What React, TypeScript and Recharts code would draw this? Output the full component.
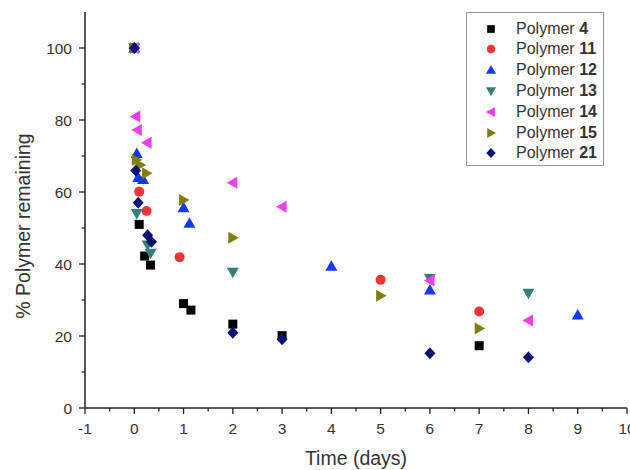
import { Label, Scatter, ScatterChart, XAxis, YAxis } from "recharts";

// [time (days), % remaining]
const polymer4 = [[0, 100], [0.1, 51], [0.21, 42.2], [0.33, 39.7], [1, 29], [1.15, 27.2], [2, 23.3], [3, 20.1], [7, 17.3]];
const polymer11 = [[0, 100], [0.1, 60.1], [0.25, 54.7], [0.92, 41.9], [5, 35.6], [7, 26.8]];
const polymer12 = [[0, 100], [0.05, 70.7], [0.08, 64], [0.18, 63.5], [1, 55.6], [1.12, 51.3], [4, 39.4], [6, 32.8], [9, 25.8]];
const polymer13 = [[0, 100], [0.05, 54], [0.27, 45.3], [0.33, 43], [2, 37.7], [6, 36], [8, 31.9]];
const polymer14 = [[0, 100], [0.03, 81], [0.06, 77.2], [0.26, 73.7], [2, 62.6], [3, 55.9], [6, 35.4], [8, 24.3]];
const polymer15 = [[0, 100], [0.04, 68.9], [0.12, 67.5], [0.25, 65.2], [1, 57.8], [2, 47.3], [5, 31.2], [7, 22.1]];
const polymer21 = [[0, 100], [0.03, 66], [0.08, 57], [0.27, 48], [0.35, 46.2], [2, 20.9], [3, 19.1], [6, 15.2], [8, 14.1]];

const xMajor = [-1, 0, 1, 2, 3, 4, 5, 6, 7, 8, 9, 10];
const xMinor = [-0.5, 0.5, 1.5, 2.5, 3.5, 4.5, 5.5, 6.5, 7.5, 8.5, 9.5];
const yMajor = [0, 20, 40, 60, 80, 100];
const yMinor = [10, 30, 50, 70, 90];

type Kind = "square" | "circle" | "up" | "down" | "left" | "right" | "diamond";

const series: { name: string; num: string; kind: Kind; color: string; points: number[][] }[] = [
  { name: "Polymer", num: "4", kind: "square", color: "#000000", points: polymer4 },
  { name: "Polymer", num: "11", kind: "circle", color: "#f23434", points: polymer11 },
  { name: "Polymer", num: "12", kind: "up", color: "#1538f5", points: polymer12 },
  { name: "Polymer", num: "13", kind: "down", color: "#33807a", points: polymer13 },
  { name: "Polymer", num: "14", kind: "left", color: "#f03cf0", points: polymer14 },
  { name: "Polymer", num: "15", kind: "right", color: "#7f7f10", points: polymer15 },
  { name: "Polymer", num: "21", kind: "diamond", color: "#0a1175", points: polymer21 },
];

const FONT = "'Liberation Sans', Arial, sans-serif";
const TXT = "#333";

function Glyph({ kind, color, cx, cy, s = 1 }: { kind: Kind; color: string; cx: number; cy: number; s?: number }) {
  const a = 6 * s;
  const b = 4.5 * s;
  let d = "";
  if (kind === "square") return <rect x={cx - 4.5 * s} y={cy - 4.5 * s} width={9 * s} height={9 * s} fill={color} />;
  if (kind === "circle") return <circle cx={cx} cy={cy} r={5 * s} fill={color} />;
  if (kind === "up") d = `M${cx},${cy - a}L${cx + a},${cy + b}L${cx - a},${cy + b}Z`;
  if (kind === "down") d = `M${cx},${cy + a}L${cx + a},${cy - b}L${cx - a},${cy - b}Z`;
  if (kind === "left") d = `M${cx - a},${cy}L${cx + b},${cy - a}L${cx + b},${cy + a}Z`;
  if (kind === "right") d = `M${cx + a},${cy}L${cx - b},${cy - a}L${cx - b},${cy + a}Z`;
  if (kind === "diamond") d = `M${cx},${cy - a}L${cx + 5.5 * s},${cy}L${cx},${cy + a}L${cx - 5.5 * s},${cy}Z`;
  return <path d={d} fill={color} />;
}

function XTick(props: any) {
  const { x, y, payload } = props;
  const major = Number.isInteger(payload.value);
  return (
    <g>
      <line x1={x} x2={x} y1={y} y2={y + (major ? 6 : 3.5)} stroke="#222" strokeWidth={1.3} />
      {major && (
        <text x={x} y={y + 25.5} textAnchor="middle" fontSize={15.5} fontFamily={FONT} fill={TXT}>
          {payload.value}
        </text>
      )}
    </g>
  );
}

function YTick(props: any) {
  const { x, y, payload } = props;
  const major = payload.value % 20 === 0;
  return (
    <g>
      <line x1={x} x2={x - (major ? 6 : 3.5)} y1={y} y2={y} stroke="#222" strokeWidth={1.3} />
      {major && (
        <text x={x - 13} y={y + 5.5} textAnchor="end" fontSize={15.5} fontFamily={FONT} fill={TXT}>
          {payload.value}
        </text>
      )}
    </g>
  );
}

function LegendBox() {
  return (
    <div
      style={{
        position: "absolute",
        left: 466,
        top: 12,
        width: 136,
        height: 152,
        border: "1.5px solid #999",
        background: "#fff",
        fontFamily: FONT,
        fontSize: 16,
        color: TXT,
      }}
    >
      {series.map((s, i) => (
        <div key={s.num} style={{ position: "absolute", left: 0, top: 5.5 + i * 20.8, height: 20, display: "flex", alignItems: "center" }}>
          <svg width={40} height={20} style={{ display: "block" }}>
            <Glyph kind={s.kind} color={s.color} cx={24} cy={10} s={0.85} />
          </svg>
          <span style={{ marginLeft: 9, whiteSpace: "nowrap" }}>
            {s.name} <b>{s.num}</b>
          </span>
        </div>
      ))}
    </div>
  );
}

export default function App() {
  return (
    <div style={{ position: "absolute", left: 0, top: 0, width: 630, height: 470, background: "#fff" }}>
      <ScatterChart width={630} height={470} margin={{ top: 12, right: 3, bottom: 22, left: 25 }}>
        <XAxis
          type="number"
          dataKey="t"
          domain={[-1, 10]}
          ticks={[...xMajor, ...xMinor].sort((a, b) => a - b)}
          interval={0}
          tick={<XTick />}
          tickLine={false}
          tickSize={0}
          tickMargin={0}
          height={40}
          axisLine={{ stroke: "#222", strokeWidth: 1.5 }}
        >
          <Label
            content={(p: any) => (
              <text x={p.viewBox.x + p.viewBox.width / 2 + 0} y={465} textAnchor="middle" fontSize={19.5} fontFamily={FONT} fill={TXT}>
                Time (days)
              </text>
            )}
          />
        </XAxis>
        <YAxis
          type="number"
          dataKey="v"
          domain={[0, 110]}
          ticks={[...yMajor, ...yMinor].sort((a, b) => a - b)}
          interval={0}
          tick={<YTick />}
          tickLine={false}
          tickSize={0}
          tickMargin={0}
          width={60}
          axisLine={{ stroke: "#222", strokeWidth: 1.5 }}
        >
          <Label
            content={(p: any) => {
              const cy = p.viewBox.y + p.viewBox.height / 2 + 16;
              return (
                <text x={30} y={cy} transform={`rotate(-90, 30, ${cy})`} textAnchor="middle" fontSize={19.5} fontFamily={FONT} fill={TXT}>
                  % Polymer remaining
                </text>
              );
            }}
          />
        </YAxis>
        {series.map((s) => (
          <Scatter
            key={s.num}
            name={`${s.name} ${s.num}`}
            data={s.points.map(([t, v]) => ({ t, v }))}
            isAnimationActive={false}
            shape={(p: any) => <Glyph kind={s.kind} color={s.color} cx={p.cx} cy={p.cy} />}
          />
        ))}
      </ScatterChart>
      <LegendBox />
    </div>
  );
}
